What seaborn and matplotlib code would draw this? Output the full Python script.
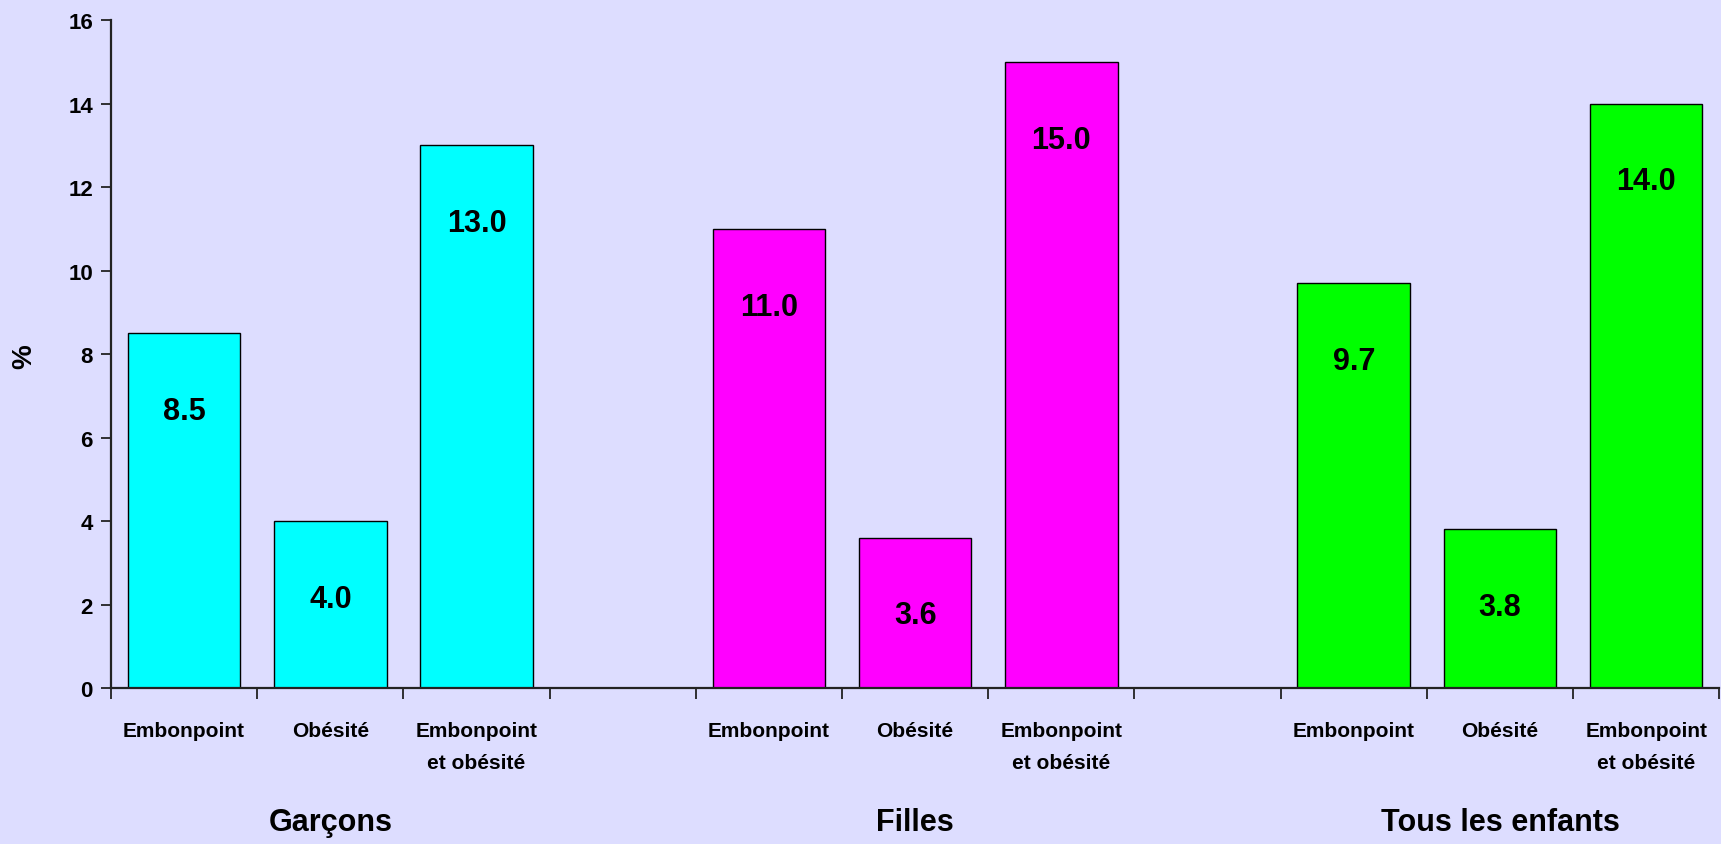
import pandas as pd
import matplotlib.pyplot as plt
import seaborn as sb
from matplotlib import transforms

# DATA
groups = ['Garçons', 'Filles', 'Tous les enfants']
measures = ['Embonpoint', 'Obésité', 'Embonpoint\net obésité']
garcons = [8.5, 4.0, 13.0]
filles = [11.0, 3.6, 15.0]
tous = [9.7, 3.8, 14.0]
colours = ['#00FFFF', '#FF00FF', '#00FF00']
yticks = [0, 2, 4, 6, 8, 10, 12, 14, 16]

rows = []
for g, vals in zip(groups, [garcons, filles, tous]):
    for m, v in zip(measures, vals):
        rows.append({'slot': g + '|' + m, 'group': g, 'measure': m, 'pct': v})
df = pd.DataFrame(rows)

# slot order with an empty slot between groups
order = []
for i, g in enumerate(groups):
    order += [g + '|' + m for m in measures]
    if i < len(groups) - 1:
        order.append('gap%d' % i)

sb.set_style('white')
plt.rcParams['font.family'] = ['Liberation Sans Narrow', 'Liberation Sans', 'DejaVu Sans']
plt.rcParams['font.weight'] = 'bold'
plt.rcParams['text.color'] = 'black'
plt.rcParams['xtick.color'] = 'black'
plt.rcParams['ytick.color'] = 'black'
bg = '#DDDDFF'
axcol = '#222222'

fig = plt.figure(figsize=(17.21, 8.45), dpi=100, facecolor=bg)
ax = fig.add_axes([0.0645, 0.1846, 0.9345, 0.7905])
ax.set_facecolor(bg)

sb.barplot(data=df, x='slot', y='pct', hue='group', order=order,
           palette=dict(zip(groups, colours)), dodge=False, width=0.77,
           saturation=1, edgecolor='black', linewidth=1.0, legend=False, ax=ax)

ax.set_ylim(0, 16)
ax.set_xlim(-0.5, len(order) - 0.5)
ax.set_yticks(yticks)
ax.set_yticklabels([str(t) for t in yticks], fontsize=16, fontweight='bold')

# x tick labels at slot centres, tick marks at slot boundaries
labels = []
for s in order:
    labels.append(s.split('|')[1] if '|' in s else '')
ax.set_xticks(range(len(order)))
ax.set_xticklabels(labels, fontsize=15, fontweight='bold', va='top', linespacing=1.85)
ax.tick_params(axis='x', which='major', bottom=True, length=0, pad=24)
ax.set_xticks([i - 0.5 for i in range(len(order) + 1)], minor=True)
ax.tick_params(axis='x', which='minor', bottom=True, length=8, width=1.3,
               color=axcol, direction='out')
ax.tick_params(axis='y', left=True, length=7, width=1.3, color=axcol,
               direction='out', pad=6)

for sp in ['top', 'right']:
    ax.spines[sp].set_visible(False)
for sp in ['left', 'bottom']:
    ax.spines[sp].set_color(axcol)
    ax.spines[sp].set_linewidth(1.6)

ax.set_xlabel('')
ax.set_ylabel('')
fig.text(24 / 1721, 0.578, '%', rotation=90, ha='center', va='center',
         fontsize=20, fontweight='bold')

# value labels inside the bars
for _, r in df.iterrows():
    x = order.index(r['slot'])
    ax.annotate('%.1f' % r['pct'], (x, r['pct']), xytext=(0, -56),
                textcoords='offset points', ha='center', va='center',
                fontsize=22, fontweight='bold')

# group names under each group
trans = transforms.blended_transform_factory(ax.transData, fig.transFigure)
for i, g in enumerate(groups):
    ax.text(i * 4 + 1, 0.026, g, transform=trans, ha='center', va='center',
            fontsize=22, fontweight='bold')

fig.savefig('out.png', dpi=100, facecolor=bg)
